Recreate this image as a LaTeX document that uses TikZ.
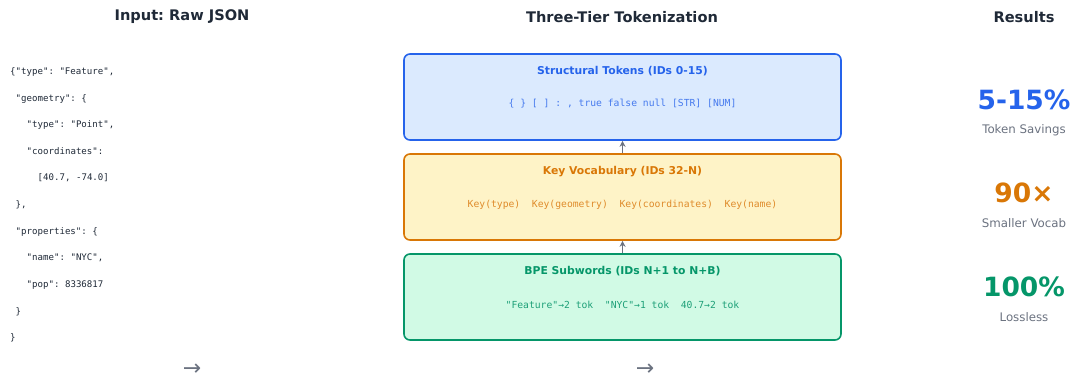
\documentclass[tikz,border=0pt]{standalone}
\usepackage{fontspec}
\setmainfont{DejaVu Sans}
\setmonofont{DejaVu Sans Mono}
\usetikzlibrary{arrows.meta}
\frenchspacing
\definecolor{ink}{HTML}{1F2937}
\definecolor{muted}{HTML}{6B7280}
\definecolor{cblue}{HTML}{2563EB}
\definecolor{fblue}{HTML}{DBEAFE}
\definecolor{corange}{HTML}{D97706}
\definecolor{forange}{HTML}{FEF3C7}
\definecolor{cgreen}{HTML}{059669}
\definecolor{fgreen}{HTML}{D1FAE5}
\newcommand{\fs}[1]{\fontsize{#1}{#1}\selectfont}
\tikzset{
  header/.style={font=\fs{14.6}\bfseries, text=ink, inner sep=0pt},
  jsonline/.style={font=\ttfamily\fs{9.1}, text=ink, anchor=mid west, inner sep=0pt},
  tierbox/.style={draw=#1, line width=1.6pt, rounded corners=6pt, minimum width=437pt, minimum height=86pt, inner sep=0pt},
  tiertitle/.style={font=\fs{10.8}\bfseries, text=#1, inner sep=0pt},
  tiercode/.style={font=\ttfamily\fs{9.7}, text=#1, inner sep=0pt},
  bigval/.style={font=\fs{26.5}\bfseries, text=#1, inner sep=0pt},
  valcap/.style={font=\fs{11.8}, text=muted, inner sep=0pt},
  flowarrow/.style={font=\fs{22}, text=muted, inner sep=0pt},
  uparrow/.style={draw=muted, line width=1.8pt, -{Stealth[length=6pt,width=6pt]}},
}
\begin{document}
\begin{tikzpicture}[x=1pt,y=-1pt]
\useasboundingbox (0,0) rectangle (1071,379);
% headers
\node[header] (h1) at (182,17) {Input: Raw JSON};
\node[header] (h2) at (622,17) {Three-Tier Tokenization};
\node[header] (h3) at (1024,17) {Results};
% JSON
\node[jsonline] (j1) at (10,72) {\{"type": "Feature",};
\node[jsonline] (j2) at (15.5,98.5) {"geometry": \{};
\node[jsonline] (j3) at (26.5,125) {"type": "Point",};
\node[jsonline] (j4) at (26.5,151.5) {"coordinates":};
\node[jsonline] (j5) at (37.5,178) {[40.7, -74.0]};
\node[jsonline] (j6) at (15.5,205) {\},};
\node[jsonline] (j7) at (15.5,231.5) {"properties": \{};
\node[jsonline] (j8) at (26.5,258) {"name": "NYC",};
\node[jsonline] (j9) at (26.5,284.5) {"pop": 8336817};
\node[jsonline] (j10) at (15.5,311.5) {\}};
\node[jsonline] (j11) at (10,338) {\}};
% tiers
\node[tierbox=cblue, fill=fblue] (b1) at (622.5,97) {};
\node[tierbox=corange, fill=forange] (b2) at (622.5,197) {};
\node[tierbox=cgreen, fill=fgreen] (b3) at (622.5,297) {};
\node[tiertitle=cblue] (t1) at (622.5,71.5) {Structural Tokens (IDs 0-15)};
\node[tiercode=cblue!85!white] (c1) at (622.5,104) {\{ \} [ ] : , true false null [STR] [NUM]};
\node[tiertitle=corange] (t2) at (622.5,171.5) {Key Vocabulary (IDs 32-N)};
\node[tiercode=corange!85!white] (c2) at (622.5,204.5) {Key(type)\ \ Key(geometry)\ \ Key(coordinates)\ \ Key(name)};
\node[tiertitle=cgreen] (t3) at (622.5,271.5) {BPE Subwords (IDs N+1 to N+B)};
\node[tiercode=cgreen!90!white] (c3) at (622.5,304.5) {"Feature"→2 tok\ \ "NYC"→1 tok\ \ 40.7→2 tok};
\draw[uparrow] (b2.north) -- (b1.south);
\draw[uparrow] (b3.north) -- (b2.south);
% results
\node[bigval=cblue] (r1) at (1024,100) {5-15\%};
\node[valcap] (r1c) at (1024,130) {Token Savings};
\node[bigval=corange] (r2) at (1024,193) {90×};
\node[valcap] (r2c) at (1024,223) {Smaller Vocab};
\node[bigval=cgreen] (r3) at (1024,287) {100\%};
\node[valcap] (r3c) at (1024,317) {Lossless};
% flow arrows
\node[flowarrow] (f1) at (192,370) {→};
\node[flowarrow] (f2) at (645,370) {→};
\end{tikzpicture}
\end{document}
